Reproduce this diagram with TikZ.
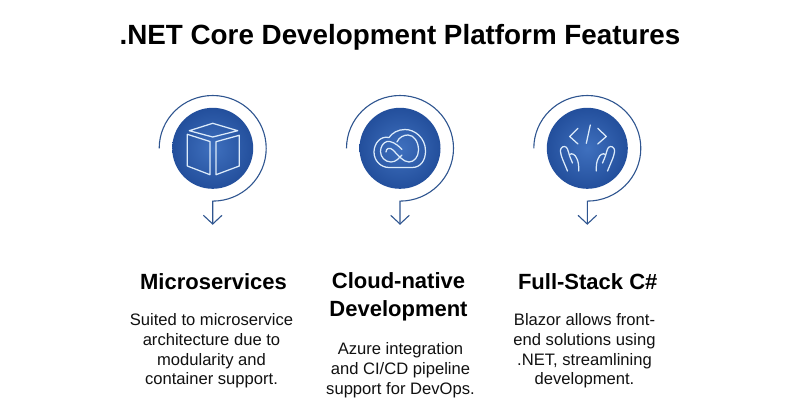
\documentclass[tikz,border=0pt]{standalone}
\usepackage{fontspec}
\setmainfont{Liberation Sans}
\definecolor{ringc}{HTML}{2F5590}
\definecolor{discin}{HTML}{3F70BE}
\definecolor{discout}{HTML}{234F9C}
\definecolor{iconc}{HTML}{DCEBFA}
\definecolor{inkc}{HTML}{111111}
\tikzset{
  x=1pt,y=-1pt,
  disc/.style={circle,draw=none,minimum size=81pt,inner sep=0pt,inner color=discin,outer color=discout},
  ring/.style={draw=ringc,line width=1.1pt},
  icon/.style={draw=iconc,line width=1.25pt,line join=round,line cap=round},
  titletext/.style={font=\bfseries\fontsize{27.8}{32}\selectfont,anchor=center,inner sep=0pt,text=black},
  headtext/.style={font=\bfseries\fontsize{22}{27.7}\selectfont,align=center,anchor=center,inner sep=0pt,text=black},
  bodytext/.style={font=\fontsize{16.6}{19.9}\selectfont,align=center,anchor=north,inner sep=0pt,text=inkc},
  pics/spiral/.style={code={
    \coordinate (-end) at (0,75.7);
    \draw[ring] (-53.5,0) arc[start angle=180,end angle=-90,x radius=53.5,y radius=-52.8]
       -- (-end);
    \draw[ring,line join=miter] (-9.3,67) -- (-end) -- (9.3,67);
  }}
}
\begin{document}
\begin{tikzpicture}
\useasboundingbox[fill=white] (0,0) rectangle (800,418);
\node[titletext] (title) at (400,37) {.NET Core Development Platform Features};

% column 1
\node[disc] (d1) at (212.7,148.3) {};
\pic (s1) at (212.7,148.3) {spiral};
\draw[icon] (212.7,123.3) -- (237.7,130.7) -- (212.7,137) -- (189.3,130.7) -- cycle;
\draw[icon] (187.3,134.3) -- (210,141.5) -- (210,174.7) -- (187.3,166) -- cycle;
\draw[icon] (239.3,135.3) -- (216,141.7) -- (216,174.7) -- (239.3,166) -- cycle;

% column 2
\node[disc] (d2) at (400,148.3) {};
\pic (s2) at (400,148.3) {spiral};
\draw[icon] (389,167.5) -- (412,167.5)
  .. controls (421,167.5) and (425.5,160) .. (425.5,151)
  .. controls (425.5,138) and (415,129.5) .. (405,129.5)
  .. controls (398,129.5) and (392,133) .. (389,137.5)
  .. controls (380,135.5) and (374,144) .. (374,152)
  .. controls (374,161) and (381,167.5) .. (389,167.5) -- cycle;
\draw[icon] (402,149.5) .. controls (396,143) and (391,141) .. (387,141.5)
  .. controls (383,142.5) and (380.5,147) .. (380.5,151.5)
  .. controls (380.5,157) and (385,162) .. (391,162)
  .. controls (396,162) and (399,158) .. (402,155);
\draw[icon] (397,142) .. controls (399,137) and (404,135) .. (408,135)
  .. controls (414,135) and (418.5,142) .. (418.5,150)
  .. controls (418.5,157) and (414,162) .. (409,162)
  .. controls (403,162) and (398,155) .. (393,150)
  .. controls (390,147) and (386,148) .. (386,152);

% column 3
\node[disc] (d3) at (587.3,148.3) {};
\pic (s3) at (587.3,148.3) {spiral};
\draw[icon] (578,128.3) -- (569.7,136.5) -- (578,144);
\draw[icon] (597.7,128.3) -- (606.3,136.5) -- (597.7,144);
\draw[icon] (590.3,125) -- (586.3,143.3);
\foreach \s in {1,-1}{
  \begin{scope}[shift={(587.5,0)},xscale=\s]
    \draw[icon] (-20,171) -- (-25,159) .. controls (-27,154) and (-27.5,150) .. (-26.5,148.5)
      .. controls (-25,145.5) and (-21,146) .. (-20,149) -- (-17.5,157) -- (-15,163);
    \draw[icon] (-18,154.5) .. controls (-15.5,152.5) and (-12,155) .. (-11,158)
      .. controls (-9,161) and (-8.7,166) .. (-8.7,171);
  \end{scope}
}

% text
\node[headtext] (h1) at (213.5,282) {Microservices};
\node[bodytext] (b1) at (211.5,313) {Suited to microservice\\architecture due to\\modularity and\\container support.};
\node[headtext] (h2) at (398.5,297) {Cloud-native\\Development};
\node[bodytext] (b2) at (400.5,342.3) {Azure integration\\and CI/CD pipeline\\support for DevOps.};
\node[headtext] (h3) at (587.7,281.5) {Full-Stack C\#};
\node[bodytext] (b3) at (584.5,313) {Blazor allows front-\\end solutions using\\.NET, streamlining\\development.};
\end{tikzpicture}
\end{document}
